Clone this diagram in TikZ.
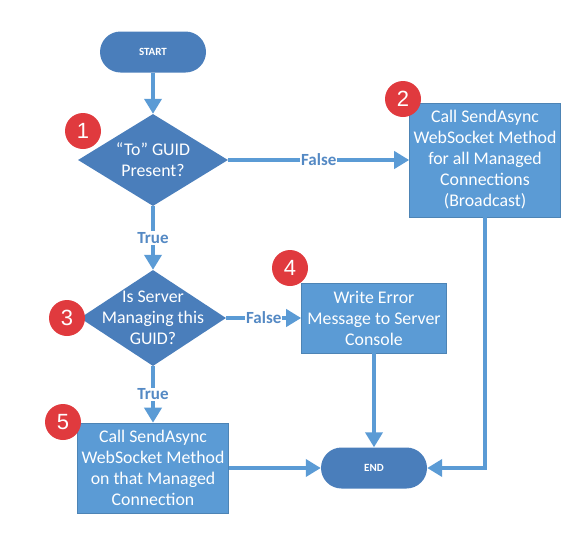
\documentclass[tikz,border=0pt]{standalone}
\usepackage{fontspec}
\setmainfont{Carlito}
\newfontfamily\badgefont{Liberation Sans}
\usetikzlibrary{shapes.geometric,arrows.meta}
\definecolor{darkblue}{RGB}{74,126,187}
\definecolor{lightblue}{RGB}{91,155,213}
\definecolor{labelblue}{RGB}{84,137,196}
\definecolor{badgered}{RGB}{224,58,62}
\begin{document}
\begin{tikzpicture}[
	x=1pt, y=-1pt,
	terminal/.style={fill=darkblue, rounded corners=20.5pt, minimum width=106pt, minimum height=41pt, text=white, font=\fontsize{11}{13}\selectfont\bfseries},
	decision/.style={diamond, fill=darkblue, inner sep=0pt},
	dtext/.style={text=white, align=center, font=\fontsize{17.8}{21}\selectfont},
	process/.style={rectangle, fill=lightblue, draw=lightblue!85!black, line width=0.6pt, text=white, align=center, inner sep=0pt, font=\fontsize{17.8}{21}\selectfont},
	badge/.style={circle, fill=badgered, minimum size=36pt, inner sep=0pt, text=white, font=\badgefont\fontsize{22}{22}\selectfont},
	edgelabel/.style={fill=white, inner sep=1pt, text=labelblue, font=\fontsize{17}{17}\selectfont\bfseries},
	arrow/.style={draw=lightblue, line width=4.5pt, -{Triangle[width=17pt,length=15pt]}}
]
\useasboundingbox (0,0) rectangle (583,544);

% shapes
\node[terminal] (start) at (153,52) {START};
\node[decision, minimum width=150pt, minimum height=92pt,
	label={[dtext]center:{``To'' GUID\\Present?}}] (d1) at (153,160) {};
\node[process, minimum width=151pt, minimum height=114pt] (p2) at (485,160)
	{Call SendAsync\\WebSocket Method\\for all Managed\\Connections\\(Broadcast)};
\node[decision, minimum width=146pt, minimum height=96pt,
	label={[dtext]center:{Is Server\\Managing this\\GUID?}}] (d3) at (153,318) {};
\node[process, minimum width=145pt, minimum height=70pt] (p4) at (374,318)
	{Write Error\\Message to Server\\Console};
\node[process, minimum width=151pt, minimum height=90pt] (p5) at (153,468)
	{Call SendAsync\\WebSocket Method\\on that Managed\\Connection};
\node[terminal] (end) at (374,468) {END};

% connectors
\draw[arrow] (start) -- (d1.north);
\draw[arrow] (d1.east) -- node[edgelabel] {False} (p2.west);
\draw[arrow] (d1.south) -- node[edgelabel] {True} (d3.north);
\draw[arrow] (d3.east) -- node[edgelabel] {False} (p4.west);
\draw[arrow] (d3.south) -- node[edgelabel] {True} (p5.north);
\draw[arrow] (p5.east) -- (end.west);
\draw[arrow] (p4.south) -- (end.north);
\draw[arrow] (p2.south) |- (end.east);

% step numbers
\node[badge] (b1) at (83,131) {1};
\node[badge] (b2) at (403,99) {2};
\node[badge] (b3) at (67,318) {3};
\node[badge] (b4) at (290,268) {4};
\node[badge] (b5) at (63,422) {5};
\end{tikzpicture}
\end{document}
